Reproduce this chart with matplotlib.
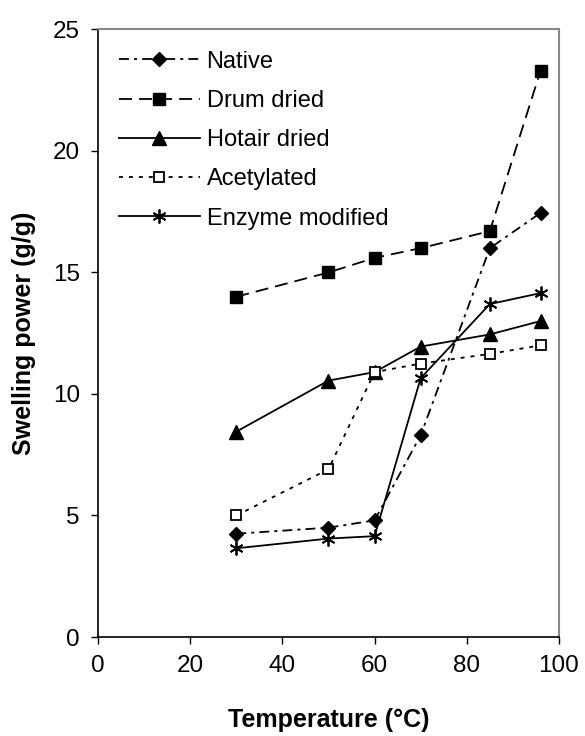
import matplotlib
matplotlib.use("Agg")
import matplotlib.pyplot as plt

plt.rcParams['font.family'] = ['Liberation Sans', 'DejaVu Sans']

# temperatures (°C)
temps = [30, 50, 60, 70, 85, 96]

# swelling power (g/g) per treatment
native = [4.25, 4.5, 4.8, 8.3, 16.0, 17.45]
drum_dried = [14.0, 15.0, 15.6, 16.0, 16.7, 23.3]
hotair_dried = [8.45, 10.55, 10.9, 11.95, 12.45, 13.0]
acetylated = [5.0, 6.9, 10.9, 11.25, 11.65, 12.0]
enzyme_modified = [3.65, 4.05, 4.15, 10.65, 13.7, 14.15]

labels = ['Native', 'Drum dried', 'Hotair dried', 'Acetylated', 'Enzyme modified']

fig = plt.figure(figsize=(5.85, 7.36), dpi=100)
ax = fig.add_axes([0.1675, 0.1345, 0.788, 0.8255])

lw = 1.3
ax.plot(temps, native, color='black', lw=lw, dashes=(5.5, 2.8, 1.7, 2.8),
        marker='D', ms=7.5, label=labels[0])
ax.plot(temps, drum_dried, color='black', lw=lw, dashes=(7.2, 3.9),
        marker='s', ms=8.5, label=labels[1])
ax.plot(temps, hotair_dried, color='black', lw=lw, linestyle='-',
        marker='^', ms=10, label=labels[2])
ax.plot(temps, acetylated, color='black', lw=lw, dashes=(2.2, 3.3),
        marker='s', ms=7.5, mfc='white', mew=1.3, label=labels[3])
ax.plot(temps, enzyme_modified, color='black', lw=lw, linestyle='-',
        marker=(6, 2, 0), ms=10, mew=1.3, label=labels[4])

ax.set_xlim(0, 100)
ax.set_ylim(0, 25)
ax.set_xticks(range(0, 101, 20))
ax.set_yticks(range(0, 26, 5))
ax.tick_params(direction='out', length=5, width=1, labelsize=17.5, pad=8)

for side in ['top', 'right']:
    ax.spines[side].set_color('#888888')
    ax.spines[side].set_linewidth(1.5)
for side in ['left', 'bottom']:
    ax.spines[side].set_color('black')
    ax.spines[side].set_linewidth(1.2)

ax.set_xlabel('Temperature (°C)', fontsize=18, fontweight='bold', labelpad=22)
ax.set_ylabel('Swelling power (g/g)', fontsize=18, fontweight='bold', labelpad=12)

ax.legend(loc='upper left', frameon=False, fontsize=17, handlelength=3.4,
          handletextpad=0.3, labelspacing=0.73)

fig.savefig('out.png', dpi=100)
